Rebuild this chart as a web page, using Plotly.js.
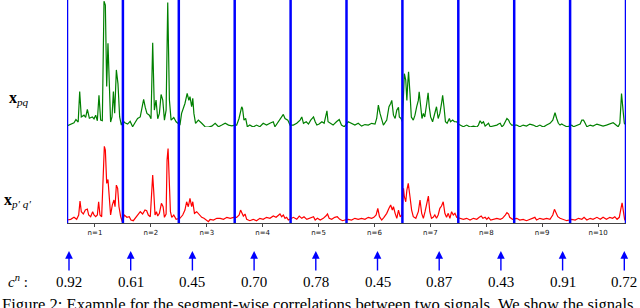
<!DOCTYPE html>
<html>
<head>
<meta charset="utf-8">
<script src="https://cdn.plot.ly/plotly-3.0.1.min.js"></script>
<style>html,body{margin:0;padding:0;background:#fff;}#chart{width:640px;height:308px;}</style>
</head>
<body>
<div id="chart"></div>
<script>
// ---- data ----
const tickLabels = ["n=1","n=2","n=3","n=4","n=5","n=6","n=7","n=8","n=9","n=10"];
const corr = ["0.92","0.61","0.45","0.70","0.78","0.45","0.87","0.43","0.91","0.72"];

const greenX = [
0.00,0.066,0.125,0.16,0.20,0.227,0.256,0.304,0.334,0.364,0.40,0.453,0.483,0.513,0.543,0.572,0.602,0.632,0.662,0.686,0.71,0.733,0.757,0.78,0.805,0.83,0.853,0.883,0.912,0.942,0.972,1.0,
1.036,1.084,1.13,1.174,1.216,1.263,1.31,1.371,1.40,1.43,1.473,1.503,1.533,1.563,1.593,1.623,1.653,1.683,1.713,1.743,1.773,1.802,1.832,1.862,1.91,1.952,2.0,
2.02,2.05,2.08,2.11,2.15,2.18,2.20,2.23,2.25,2.27,2.30,2.35,2.41,2.47,2.53,2.59,2.65,2.71,2.77,2.83,2.89,2.95,3.0,
3.035,3.077,3.125,3.14,3.166,3.196,3.226,3.27,3.33,3.39,3.45,3.51,3.57,3.63,3.69,3.72,3.78,3.83,3.87,3.90,3.95,3.99,
4.05,4.11,4.17,4.20,4.23,4.28,4.32,4.36,4.41,4.44,4.47,4.51,4.56,4.60,4.65,4.67,4.72,4.76,4.82,4.87,4.91,4.96,
5.03,5.09,5.15,5.21,5.27,5.33,5.39,5.45,5.51,5.54,5.57,5.60,5.63,5.66,5.72,5.76,5.79,5.81,5.84,5.87,5.90,5.93,5.945,5.975,6.0,
6.02,6.035,6.06,6.08,6.095,6.11,6.136,6.16,6.195,6.225,6.255,6.285,6.30,6.33,6.35,6.375,6.40,6.435,6.46,6.48,6.505,6.54,6.57,6.61,6.64,6.67,6.70,6.72,6.744,6.77,6.80,6.84,6.86,6.90,6.93,6.97,7.0,
7.03,7.09,7.15,7.21,7.27,7.33,7.36,7.39,7.42,7.45,7.48,7.51,7.54,7.57,7.63,7.69,7.72,7.75,7.78,7.81,7.84,7.87,7.90,7.92,7.955,
8.045,8.10,8.16,8.22,8.28,8.34,8.40,8.46,8.52,8.58,8.64,8.69,8.73,8.76,8.79,8.82,8.85,8.88,8.94,8.985,
9.03,9.06,9.12,9.18,9.21,9.24,9.27,9.30,9.36,9.41,9.48,9.54,9.59,9.65,9.71,9.77,9.80,9.83,9.86,9.89,9.92,9.95,9.97,10.0];
const greenY = [
0.01,0.024,0.034,0.06,0.04,0.28,0.08,0.094,0.076,0.14,0.07,0.08,0.065,0.094,0.05,0.25,0.055,0.05,0.99,0.96,0.32,0.66,0.30,0.04,0.08,0.28,0.11,0.45,0.34,0.08,0.016,0.05,
0.034,0.024,0.045,0.003,0.034,0.068,0.08,0.218,0.155,0.108,0.094,0.066,0.664,0.134,0.213,0.066,0.108,0.257,0.213,0.055,0.134,0.98,0.213,0.055,0.076,0.042,0.024,
0.016,0.108,0.15,0.186,0.265,0.21,0.24,0.16,0.226,0.108,0.03,0.055,0.03,0.003,0.0,0.008,0.03,0.003,0.016,0.03,0.016,0.01,0.016,
0.016,0.068,0.16,0.147,0.055,0.068,0.003,0.016,0.0,0.016,0.003,0.03,0.016,0.03,0.042,0.003,0.042,0.068,0.10,0.068,0.055,0.016,
0.016,0.03,0.055,0.08,0.03,0.042,0.024,0.055,0.08,0.042,0.016,0.024,0.042,0.03,0.128,0.042,0.03,0.016,0.042,0.06,0.016,0.003,
0.042,0.03,0.016,0.03,0.008,0.02,0.016,0.03,0.024,0.068,0.173,0.108,0.055,0.016,0.055,0.16,0.186,0.21,0.094,0.068,0.134,0.155,0.08,0.068,0.042,
0.24,0.42,0.37,0.21,0.34,0.435,0.265,0.08,0.055,0.094,0.16,0.21,0.278,0.134,0.068,0.108,0.08,0.186,0.27,0.16,0.08,0.042,0.094,0.16,0.068,0.108,0.186,0.25,0.16,0.042,0.03,0.068,0.042,0.055,0.042,0.042,0.024,
0.016,0.003,0.016,0.0,0.008,0.0,0.016,0.05,0.03,0.042,0.008,0.016,0.03,0.003,0.008,0.016,0.024,0.03,0.003,0.016,0.042,0.068,0.055,0.034,0.016,
0.016,0.003,0.016,0.008,0.024,0.016,0.003,0.016,0.0,0.016,0.03,0.055,0.113,0.068,0.03,0.016,0.024,0.016,0.003,0.008,
0.016,0.003,0.016,0.024,0.055,0.055,0.03,0.003,0.016,0.008,0.024,0.016,0.008,0.016,0.024,0.034,0.024,0.016,0.003,0.03,0.265,0.12,0.03,0.016];

const redX = [
0.0,0.066,0.125,0.173,0.209,0.233,0.256,0.292,0.328,0.364,0.388,0.423,0.459,0.483,0.513,0.543,0.566,0.59,0.62,0.65,0.668,0.686,0.71,0.733,0.751,0.78,0.81,0.84,0.859,0.883,0.906,0.93,0.96,0.99,
1.024,1.072,1.114,1.144,1.186,1.222,1.263,1.311,1.353,1.395,1.425,1.455,1.49,1.515,1.533,1.55,1.575,1.60,1.623,1.653,1.689,1.719,1.743,1.773,1.79,1.808,1.826,1.85,1.874,1.91,1.952,1.994,
2.02,2.07,2.11,2.14,2.17,2.20,2.23,2.25,2.28,2.32,2.37,2.41,2.45,2.50,2.53,2.56,2.62,2.68,2.74,2.80,2.86,2.92,2.98,
3.035,3.08,3.105,3.13,3.155,3.185,3.215,3.27,3.33,3.39,3.45,3.51,3.57,3.63,3.69,3.74,3.78,3.81,3.84,3.87,3.90,3.93,3.96,
4.05,4.11,4.155,4.20,4.24,4.29,4.35,4.41,4.44,4.48,4.53,4.585,4.63,4.66,4.69,4.735,4.79,4.835,4.88,4.93,4.97,
5.03,5.09,5.15,5.21,5.27,5.33,5.39,5.45,5.49,5.53,5.56,5.59,5.63,5.67,5.72,5.76,5.79,5.82,5.84,5.87,5.90,5.93,5.96,5.99,
6.02,6.035,6.06,6.08,6.105,6.136,6.165,6.195,6.24,6.285,6.315,6.345,6.375,6.405,6.435,6.465,6.49,6.52,6.55,6.58,6.61,6.64,6.67,6.70,6.73,6.76,6.79,6.82,6.85,6.88,6.91,6.94,6.97,
7.03,7.09,7.15,7.21,7.27,7.33,7.375,7.41,7.44,7.48,7.51,7.54,7.58,7.63,7.69,7.75,7.79,7.84,7.87,7.90,7.92,7.97,
8.045,8.10,8.16,8.22,8.28,8.34,8.37,8.40,8.46,8.52,8.58,8.64,8.69,8.72,8.75,8.78,8.82,8.88,8.94,8.985,
9.03,9.09,9.15,9.21,9.25,9.30,9.36,9.41,9.48,9.54,9.59,9.65,9.71,9.76,9.80,9.84,9.88,9.91,9.93,9.95,9.975,10.0];
const redY = [
0.039,0.048,0.074,0.048,0.104,0.286,0.147,0.117,0.169,0.182,0.104,0.082,0.147,0.104,0.082,0.104,0.277,0.104,0.082,0.73,1.0,0.95,0.516,0.568,0.342,0.104,0.234,0.30,0.212,0.494,0.451,0.212,0.082,0.017,
0.104,0.074,0.082,0.039,0.03,0.061,0.104,0.147,0.117,0.169,0.16,0.104,0.082,0.429,0.624,0.429,0.104,0.147,0.091,0.126,0.256,0.212,0.074,0.117,0.82,0.97,0.69,0.147,0.074,0.104,0.048,0.061,
0.061,0.104,0.169,0.277,0.212,0.321,0.212,0.277,0.126,0.147,0.104,0.074,0.061,0.039,0.017,0.048,0.039,0.061,0.061,0.048,0.074,0.061,0.074,
0.074,0.104,0.169,0.134,0.091,0.117,0.048,0.03,0.048,0.03,0.061,0.048,0.074,0.061,0.091,0.074,0.104,0.117,0.082,0.104,0.061,0.074,0.039,
0.074,0.048,0.091,0.061,0.082,0.048,0.061,0.082,0.039,0.061,0.039,0.061,0.091,0.117,0.061,0.048,0.074,0.082,0.048,0.03,0.039,
0.048,0.039,0.061,0.048,0.061,0.048,0.074,0.061,0.074,0.104,0.191,0.082,0.039,0.074,0.126,0.191,0.234,0.169,0.212,0.126,0.061,0.169,0.082,0.104,
0.451,0.342,0.277,0.429,0.516,0.342,0.169,0.082,0.061,0.147,0.30,0.126,0.061,0.147,0.256,0.351,0.147,0.061,0.074,0.104,0.061,0.104,0.191,0.221,0.277,0.126,0.074,0.126,0.061,0.147,0.104,0.126,0.074,
0.061,0.048,0.061,0.039,0.061,0.048,0.074,0.091,0.061,0.074,0.048,0.074,0.039,0.048,0.061,0.048,0.061,0.104,0.134,0.117,0.074,0.048,
0.061,0.039,0.048,0.03,0.048,0.061,0.074,0.039,0.061,0.048,0.061,0.048,0.104,0.178,0.126,0.082,0.061,0.048,0.03,0.039,
0.048,0.039,0.061,0.048,0.074,0.039,0.061,0.048,0.074,0.048,0.074,0.048,0.074,0.061,0.082,0.048,0.074,0.191,0.264,0.169,0.048,0.017];

// ---- layout constants (pixels) ----
const W = 640, H = 308;
const ML = 67, MR = 14, MT = 0, MB = 85;
const plotW = W - ML - MR, plotH = H - MT - MB;
const px2paperX = px => (px - ML) / plotW;
const py2paperY = py => (plotH + MT - py) / plotH;

const SERIF = "Liberation Serif, Times New Roman, serif";
const nSeg = tickLabels.length;

const traces = [
  {x: greenX, y: greenY, type: "scatter", mode: "lines", xaxis: "x", yaxis: "y2",
   line: {color: "#008000", width: 1.2}, hoverinfo: "skip"},
  {x: redX, y: redY, type: "scatter", mode: "lines", xaxis: "x", yaxis: "y",
   line: {color: "#ff0000", width: 1.2}, hoverinfo: "skip"}
];

const shapes = [];
for (let i = 0; i <= nSeg; i++) {
  shapes.push({type: "line", xref: "x", yref: "paper", x0: i, x1: i, y0: 0, y1: 1,
    line: {color: "#0000ff", width: 2.5}, layer: "above"});
}

const annotations = [
  {text: "<b>x</b><sub><i>pq</i></sub>", xref: "paper", yref: "paper",
   x: px2paperX(7), y: py2paperY(98), xanchor: "left", yanchor: "middle", showarrow: false,
   font: {family: SERIF, size: 16, color: "#000"}},
  {text: "<b>x</b><sub><i>p′ q′</i></sub>", xref: "paper", yref: "paper",
   x: px2paperX(2), y: py2paperY(200), xanchor: "left", yanchor: "middle", showarrow: false,
   font: {family: SERIF, size: 16, color: "#000"}},
  {text: "<i>c</i><sup><i>n</i></sup> :", xref: "paper", yref: "paper",
   x: px2paperX(6), y: py2paperY(281), xanchor: "left", yanchor: "middle", showarrow: false,
   font: {family: SERIF, size: 15, color: "#000"}},
  {text: "Figure 2: Example for the segment-wise correlations between two signals. We show the signals",
   xref: "paper", yref: "paper", x: px2paperX(0), y: py2paperY(293), xanchor: "left", yanchor: "top",
   showarrow: false, font: {family: SERIF, size: 16.6, color: "#000"}}
];
for (let i = 0; i < corr.length; i++) {
  const cx = 69 + i * 61.7;
  annotations.push({text: "", xref: "paper", yref: "paper", x: px2paperX(cx), y: py2paperY(251),
    showarrow: true, ax: 0, ay: 21, arrowhead: 2, arrowsize: 1.1, arrowwidth: 1.4, arrowcolor: "#0000ff"});
  annotations.push({text: corr[i], xref: "paper", yref: "paper", x: px2paperX(cx), y: py2paperY(282),
    xanchor: "center", yanchor: "middle", showarrow: false, font: {family: SERIF, size: 15, color: "#000"}});
}

const layout = {
  width: W, height: H,
  margin: {l: ML, r: MR, t: MT, b: MB, pad: 0},
  paper_bgcolor: "#fff", plot_bgcolor: "#fff",
  showlegend: false,
  xaxis: {range: [0, nSeg], tickvals: tickLabels.map((_, i) => i + 0.5), ticktext: tickLabels,
    ticks: "outside", ticklen: 3, tickwidth: 1, tickcolor: "#444",
    showline: true, linecolor: "#444", linewidth: 1, showgrid: false, zeroline: false,
    tickfont: {family: "DejaVu Sans", size: 7, color: "#111"}, fixedrange: true},
  yaxis: {domain: [0, 0.43], range: [0, 1.25], visible: false, fixedrange: true},
  yaxis2: {domain: [0.43, 1], range: [0, 1], visible: false, anchor: "x", fixedrange: true},
  shapes: shapes,
  annotations: annotations
};

Plotly.newPlot("chart", traces, layout, {staticPlot: true, displayModeBar: false});
</script>
</body>
</html>
